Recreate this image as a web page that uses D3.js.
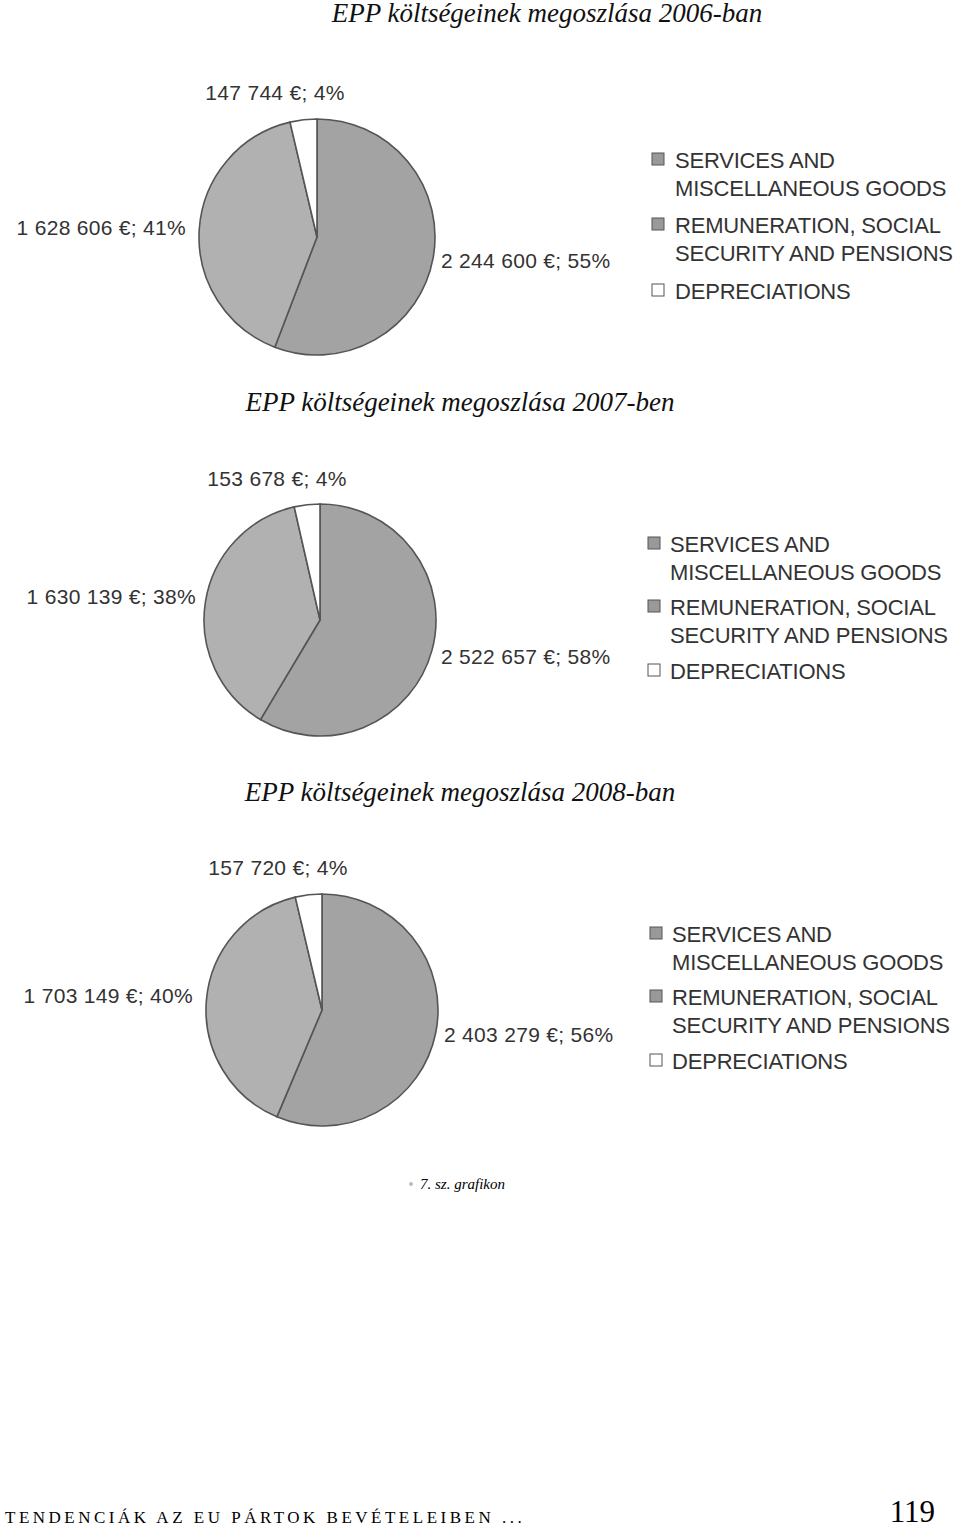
<!DOCTYPE html><html><head><meta charset="utf-8">
<script src="https://cdn.jsdelivr.net/npm/d3@7/dist/d3.min.js"></script>
<style>body{margin:0;background:#fff}</style></head><body>
<svg id="c" width="960" height="1529"></svg>
<script>
const categories=["SERVICES AND|MISCELLANEOUS GOODS","REMUNERATION, SOCIAL|SECURITY AND PENSIONS","DEPRECIATIONS"];
const years=["2006-ban","2007-ben","2008-ban"];
const values2006=[2244600,1628606,147744];
const values2007=[2522657,1630139,153678];
const values2008=[2403279,1703149,157720];
const pct2006=[55,41,4];
const pct2007=[58,38,4];
const pct2008=[56,40,4];
const fmt=v=>d3.format(",")(v).replace(/,/g," ");
const colors=["#a3a3a3","#b1b1b1","#ffffff"];
const svg=d3.select("#c");
const layouts=[
 {title:[547,22],cx:317,cy:237,r:118,lab:[[441,268,"start"],[186,235,"end"],[275,100,"middle"]],lg:[652,675,[160,225,291]]},
 {title:[460,411],cx:320,cy:620,r:116,lab:[[441,664,"start"],[196,604,"end"],[277,486,"middle"]],lg:[648,670,[544,607,671]]},
 {title:[460,801],cx:322,cy:1010,r:116,lab:[[444,1042,"start"],[193,1003,"end"],[278,875,"middle"]],lg:[650,672,[934,997,1061]]}
];
const data=[[values2006,pct2006],[values2007,pct2007],[values2008,pct2008]];
const pie=d3.pie().sort(null).value(d=>d);
layouts.forEach((L,i)=>{
 const [vals,pcts]=data[i];
 svg.append("text").attr("x",L.title[0]).attr("y",L.title[1]).attr("text-anchor","middle")
  .attr("font-family","Liberation Serif").attr("font-style","italic").attr("font-size",27).attr("fill","#111")
  .text("EPP költségeinek megoszlása "+years[i]);
 const g=svg.append("g").attr("transform",`translate(${L.cx},${L.cy})`);
 g.selectAll("path").data(pie(vals)).join("path").attr("d",d3.arc().innerRadius(0).outerRadius(L.r))
  .attr("fill",(d,j)=>colors[j]).attr("stroke","#555").attr("stroke-width",1.6);
 vals.forEach((v,j)=>{
  svg.append("text").attr("x",L.lab[j][0]).attr("y",L.lab[j][1]).attr("text-anchor",L.lab[j][2])
   .attr("font-family","Liberation Sans").attr("font-size",21).attr("fill","#333").attr("letter-spacing",0.3)
   .text(fmt(v)+" €; "+pcts[j]+"%");
 });
 categories.forEach((c,j)=>{
  const y=L.lg[2][j];
  svg.append("rect").attr("x",L.lg[0]).attr("y",y-7).attr("width",12).attr("height",12)
   .attr("fill",colors[j]==="#ffffff"?"#fff":"#999").attr("stroke","#555");
  c.split("|").forEach((t,k)=>svg.append("text").attr("x",L.lg[1]).attr("y",y+8+k*28)
   .attr("font-family","Liberation Sans").attr("font-size",22).attr("fill","#333").attr("letter-spacing",-0.2).text(t));
 });
});
svg.append("circle").attr("cx",411).attr("cy",1184).attr("r",2).attr("fill","#bbb");
svg.append("text").attr("x",420).attr("y",1189).attr("font-family","Liberation Serif").attr("font-style","italic")
 .attr("font-size",15).text("7. sz. grafikon");
svg.append("text").attr("x",5).attr("y",1523).attr("font-family","Liberation Serif").attr("font-size",17)
 .attr("letter-spacing",3.5).text("TENDENCIÁK AZ EU PÁRTOK BEVÉTELEIBEN ...");
svg.append("text").attr("x",935).attr("y",1522).attr("text-anchor","end").attr("font-family","Liberation Serif")
 .attr("font-size",31).text("119");
</script></body></html>
